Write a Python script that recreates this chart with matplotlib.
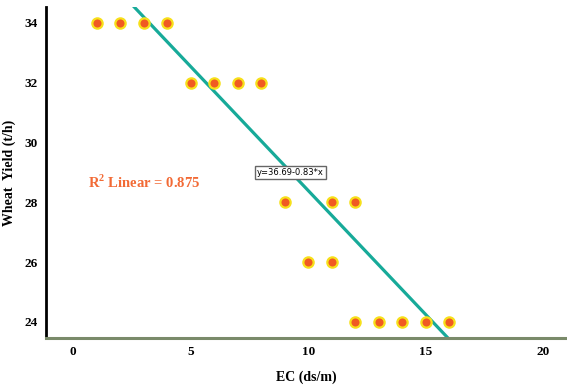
import numpy as np
import matplotlib.pyplot as plt

# EC (ds/m) vs wheat yield (t/h)
ec = [1, 2, 3, 4, 5, 6, 7, 8, 9, 10, 11, 11, 12, 12, 13, 14, 15, 16]
yield_th = [34, 34, 34, 34, 32, 32, 32, 32, 28, 26, 28, 26, 28, 24, 24, 24, 24, 24]

intercept = 36.69
slope = -0.83
r2 = 0.875

x_ticks = [0, 5, 10, 15, 20]
y_ticks = [24, 26, 28, 30, 32, 34]

plt.rcParams['font.family'] = ['Liberation Serif', 'DejaVu Serif']
plt.rcParams['mathtext.fontset'] = 'custom'
plt.rcParams['mathtext.rm'] = 'Liberation Serif:bold'
plt.rcParams['mathtext.bf'] = 'Liberation Serif:bold'

fig = plt.figure(figsize=(5.67, 3.87), dpi=100)
ax = fig.add_axes([0.081, 0.1266, 0.919, 0.8554])

xmin, xmax = -1.15, 21.0
ymin, ymax = 23.46, 34.53

# fit line
xl = np.linspace(xmin, xmax, 200)
ax.plot(xl, intercept + slope * xl, color='#17AA99', lw=2.3, zorder=2)

ax.scatter(ec, yield_th, s=55, color='#F05A22', edgecolors='#F7E01A',
           linewidths=1.6, zorder=3)

ax.set_xlim(xmin, xmax)
ax.set_ylim(ymin, ymax)
ax.set_xticks(x_ticks)
ax.set_yticks(y_ticks)
ax.tick_params(length=0, labelsize=9.5, pad=6)
for lbl in ax.get_xticklabels() + ax.get_yticklabels():
    lbl.set_fontweight('bold')

ax.spines['top'].set_visible(False)
ax.spines['right'].set_visible(False)
ax.spines['left'].set_linewidth(2)
ax.spines['left'].set_color('black')
ax.spines['bottom'].set_linewidth(2.2)
ax.spines['bottom'].set_color('#7A8A6A')

ax.set_xlabel('EC (ds/m)', fontsize=10, fontweight='bold')
ax.xaxis.set_label_coords(0.5, -0.098)
ax.set_ylabel('Wheat  Yield (t/h)', fontsize=10, fontweight='bold')
ax.yaxis.set_label_coords(-0.058, 0.5)

ax.text(0.65, 28.65, r'R$^{2}$ Linear = 0.875', color='#F26A35',
        fontsize=10.5, fontweight='bold', va='center')

ax.text(9.25, 29.0, 'y=36.69-0.83*x', family='DejaVu Sans', fontsize=6,
        ha='center', va='center', zorder=4,
        bbox=dict(boxstyle='square,pad=0.25', fc='white', ec='#666666', lw=1))

fig.savefig('out.png', dpi=100)
